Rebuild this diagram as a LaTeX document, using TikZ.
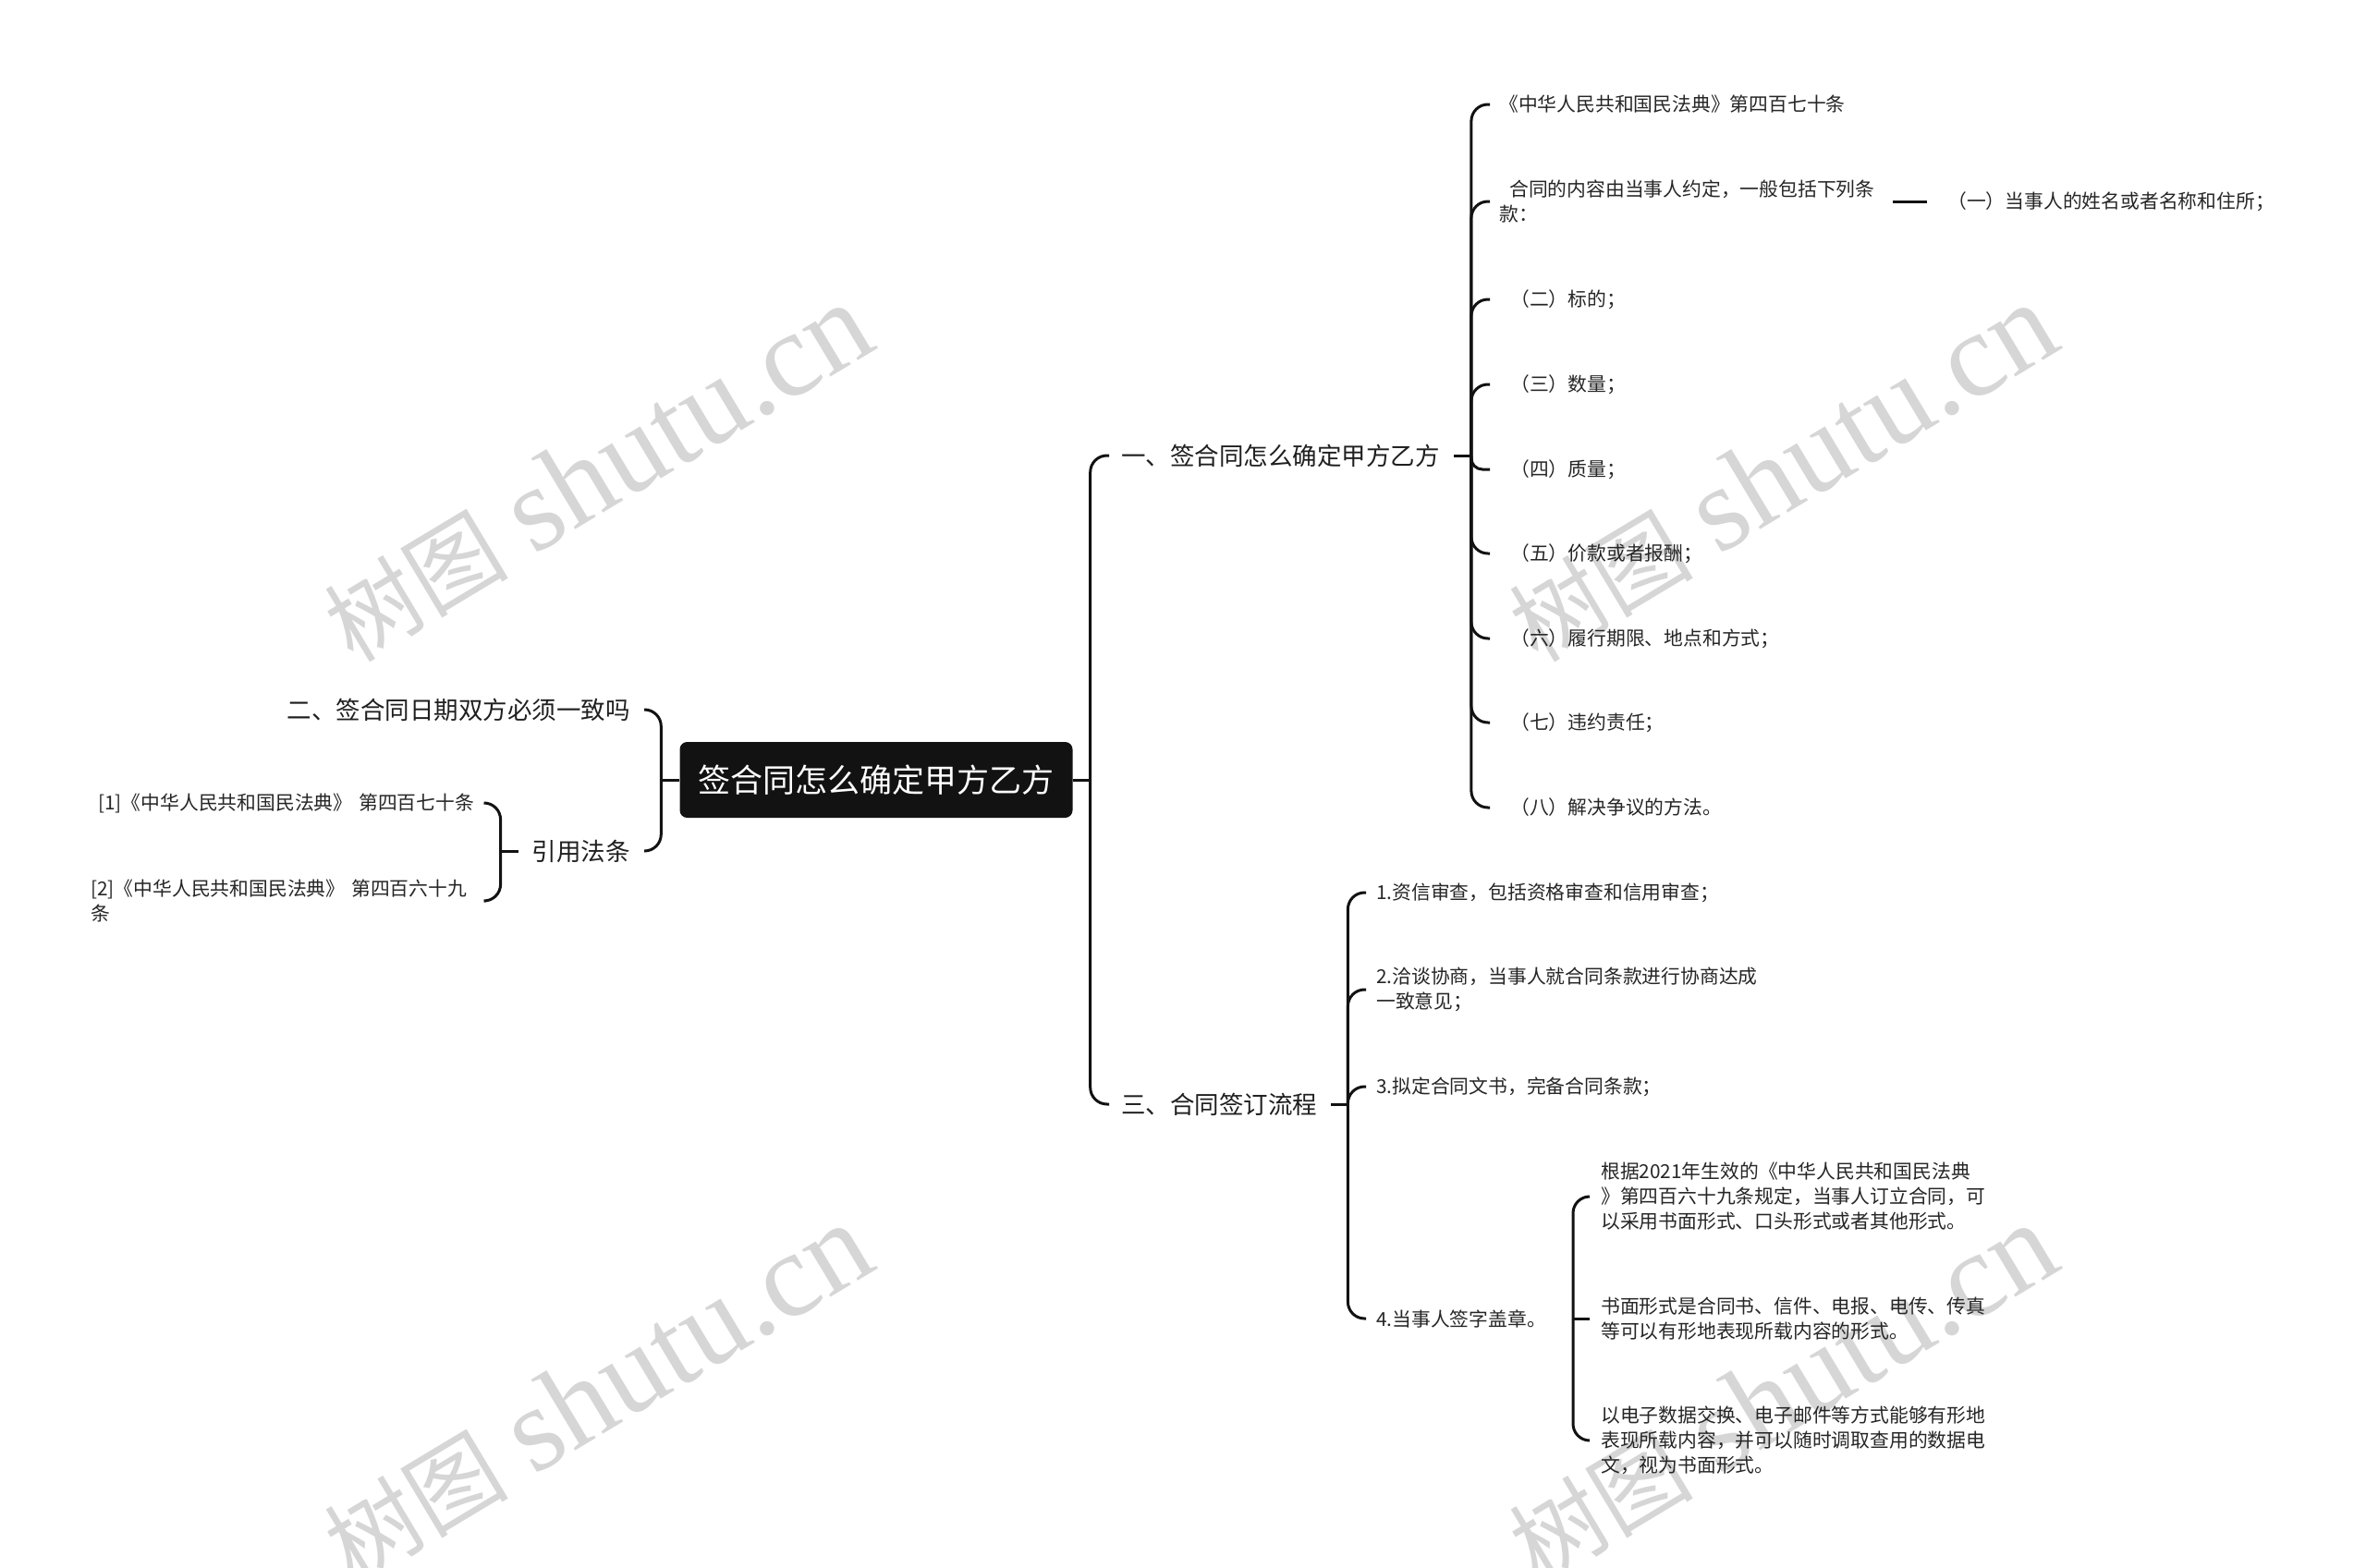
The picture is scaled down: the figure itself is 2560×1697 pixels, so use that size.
\documentclass[tikz,border=0pt]{standalone}
\usepackage{fontspec}
\setmainfont{Noto Sans CJK SC}
\newfontfamily\wmlatin{Liberation Serif}
\newfontfamily\wmcjk{Noto Sans CJK SC}
\usetikzlibrary{calc}
\newcommand\myind{\hspace*{12pt}}
\newcommand\wmtext{{\wmcjk\fontsize{100}{110}\selectfont 树图}\hspace{28pt}{\wmlatin\fontsize{130}{140}\selectfont shutu.cn}}
\begin{document}
\begin{tikzpicture}[x=1pt,y=-1pt,
  conn/.style={line width=3pt, draw=black!93},
  small/.style={font=\fontsize{20.8}{27}\selectfont, inner sep=0pt, text=black!85, align=left},
  big/.style={font=\fontsize{26.5}{32}\selectfont, inner sep=0pt, text=black!88},
  wm/.style={text=black!16, rotate=31, inner sep=0pt}
]
\fill[white] (0,0) rectangle (2560,1697);
\useasboundingbox (0,0) rectangle (2560,1697);

% watermarks
\node[wm] (wm1) at (646,512) {\wmtext};
\node[wm] (wm2) at (1928,512) {\wmtext};
\node[wm] (wm3) at (646,1508) {\wmtext};
\node[wm] (wm4) at (1928,1508) {\wmtext};

% root
\node[fill=black!93, rounded corners=8pt, minimum width=425pt, minimum height=82pt,
      text=white, font=\fontsize{35}{40}\selectfont, inner sep=0pt] (root) at (948,844) {签合同怎么确定甲方乙方};

% main branches
\node[big, anchor=west] (b1) at (1213,493) {一、签合同怎么确定甲方乙方};
\node[big, anchor=west] (b3) at (1213,1195) {三、合同签订流程};
\node[big, anchor=east] (b2) at (682,768) {二、签合同日期双方必须一致吗};
\node[big, anchor=east] (b4) at (682,921) {引用法条};

% branch 一 children
\node[small, anchor=west] (a1) at (1622,113) {《中华人民共和国民法典》第四百七十条};
\node[small, anchor=west] (a2) at (1622,218) {\hspace*{11pt}合同的内容由当事人约定，一般包括下列条\\款：};
\node[small, anchor=west] (a3) at (1622,324) {\myind（二）标的；};
\node[small, anchor=west] (a4) at (1622,416) {\myind（三）数量；};
\node[small, anchor=west] (a5) at (1622,508) {\myind（四）质量；};
\node[small, anchor=west] (a6) at (1622,599) {\myind（五）价款或者报酬；};
\node[small, anchor=west] (a7) at (1622,691) {\myind（六）履行期限、地点和方式；};
\node[small, anchor=west] (a8) at (1622,782) {\myind（七）违约责任；};
\node[small, anchor=west] (a9) at (1622,874) {\myind（八）解决争议的方法。};
\node[small, anchor=west] (f1) at (2107,218) {（一）当事人的姓名或者名称和住所；};

% branch 三 children
\node[small, anchor=west] (d1) at (1489,966) {1.资信审查，包括资格审查和信用审查；};
\node[small, anchor=west] (d2) at (1489,1071) {2.洽谈协商，当事人就合同条款进行协商达成\\一致意见；};
\node[small, anchor=west] (d3) at (1489,1176) {3.拟定合同文书，完备合同条款；};
\node[small, anchor=west] (d4) at (1489,1427) {4.当事人签字盖章。};

% 4 children
\node[small, anchor=west] (e1) at (1732,1295) {根据2021年生效的《中华人民共和国民法典\\》第四百六十九条规定，当事人订立合同，可\\以采用书面形式、口头形式或者其他形式。};
\node[small, anchor=west] (e2) at (1732,1427) {书面形式是合同书、信件、电报、电传、传真\\等可以有形地表现所载内容的形式。};
\node[small, anchor=west] (e3) at (1732,1559) {以电子数据交换、电子邮件等方式能够有形地\\表现所载内容，并可以随时调取查用的数据电\\文，视为书面形式。};

% citations
\node[small, anchor=west, text width=415pt, align=right] (c1) at (98,869) {[1]《中华人民共和国民法典》 第四百七十条};
\node[small, anchor=west, text width=415pt, align=left] (c2) at (98,975) {[2]《中华人民共和国民法典》 第四百六十九\\条};

% connectors: root right
\coordinate (jr) at ([xshift=19pt]root.east);
\draw[conn] (root.east) -- (jr);
\draw[conn, rounded corners=18pt] (jr) |- ([xshift=-13pt]b1.west);
\draw[conn, rounded corners=18pt] (jr) |- ([xshift=-13pt]b3.west);

% root left
\coordinate (jl) at ([xshift=-20pt]root.west);
\draw[conn] (root.west) -- (jl);
\draw[conn, rounded corners=18pt] (jl) |- ([xshift=15pt]b2.east);
\draw[conn, rounded corners=18pt] (jl) |- ([xshift=15pt]b4.east);

% branch 一
\coordinate (j1) at ([xshift=34pt]b1.east);
\draw[conn] ([xshift=15pt]b1.east) -- (j1);
\foreach \n in {a1,a2,a3,a4,a6,a7,a8,a9}
  \draw[conn, rounded corners=18pt] (j1) |- ([xshift=-10pt]\n.west);
\draw[conn, rounded corners=12pt] (j1) |- ([xshift=-10pt]a5.west);
\draw[conn] ([xshift=19pt]a2.east) -- ([xshift=-22pt]f1.west);

% branch 三
\coordinate (j3) at ([xshift=33pt]b3.east);
\draw[conn] ([xshift=15pt]b3.east) -- (j3);
\foreach \n in {d1,d2,d3,d4}
  \draw[conn, rounded corners=18pt] (j3) |- ([xshift=-11pt]\n.west);

% item 4
\coordinate (j4) at (1702,1427);
\draw[conn] ([xshift=30pt]d4.east) -- (j4);
\draw[conn] (j4) -- ([xshift=-12pt]e2.west);
\draw[conn, rounded corners=18pt] (j4) |- ([xshift=-12pt]e1.west);
\draw[conn, rounded corners=18pt] (j4) |- ([xshift=-12pt]e3.west);

% citations
\coordinate (jc) at ([xshift=-34pt]b4.west);
\draw[conn] ([xshift=-15pt]b4.west) -- (jc);
\draw[conn, rounded corners=18pt] (jc) |- ([xshift=12pt]c1.east);
\draw[conn, rounded corners=18pt] (jc) |- ([xshift=12pt]c2.east);
\end{tikzpicture}
\end{document}
